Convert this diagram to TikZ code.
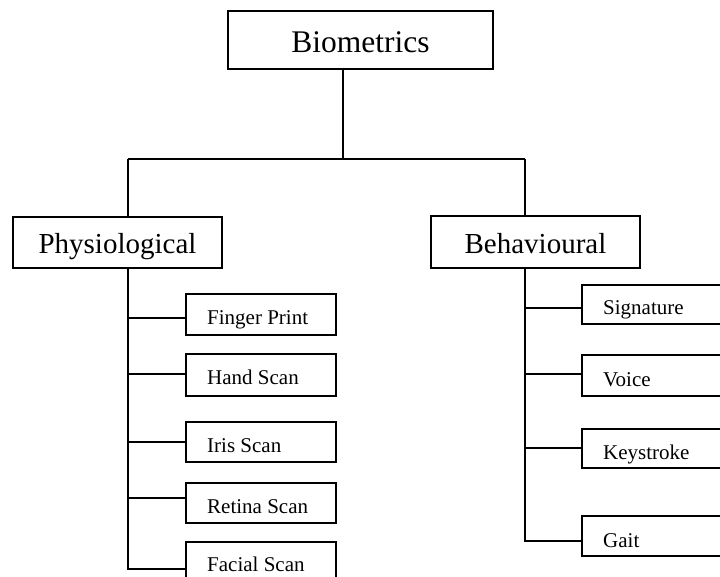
\documentclass[tikz,border=0pt]{standalone}
\usepackage{fontspec}
\setmainfont{Liberation Serif}
\begin{document}
\begin{tikzpicture}[x=1pt,y=-1pt,
  box/.style={draw, line width=1.7pt, rectangle, inner sep=0pt},
  link/.style={line width=1.7pt},
  title/.style={inner sep=0pt, anchor=base, font=\fontsize{31.5}{32}\selectfont},
  group/.style={inner sep=0pt, anchor=base, font=\fontsize{29}{30}\selectfont},
  item/.style={inner sep=0pt, anchor=base west, font=\fontsize{21}{22}\selectfont}]
\useasboundingbox (0,0) rectangle (720,577);
\clip (0,0) rectangle (720,577);

% root
\node[box, minimum width=265pt, minimum height=58pt] (bio) at (360.5,40) {};
\node[title] (bioT) at (360.5,53) {Biometrics};

% two groups
\node[box, minimum width=209pt, minimum height=51pt] (phys) at (117.5,242.5) {};
\node[group] (physT) at (117.5,254) {Physiological};
\node[box, minimum width=209pt, minimum height=52pt] (beh) at (535.5,242) {};
\node[group] (behT) at (535.5,254) {Behavioural};

% physiological items
\node[box, minimum width=150pt, minimum height=41pt] (fp) at (261,314.5) {};
\node[item] (fpT) at (207,324) {Finger Print};
\node[box, minimum width=150pt, minimum height=42pt] (hs) at (261,375) {};
\node[item] (hsT) at (207,384) {Hand Scan};
\node[box, minimum width=150pt, minimum height=40pt] (is) at (261,442) {};
\node[item] (isT) at (207,452) {Iris Scan};
\node[box, minimum width=150pt, minimum height=40pt] (rs) at (261,503) {};
\node[item] (rsT) at (207,513) {Retina Scan};
\node[box, minimum width=150pt, minimum height=40pt] (fs) at (261,562) {};
\node[item] (fsT) at (207,571) {Facial Scan};

% behavioural items
\node[box, minimum width=150pt, minimum height=39pt] (sig) at (657,304.5) {};
\node[item] (sigT) at (603,315) {Signature};
\node[box, minimum width=150pt, minimum height=41pt] (voi) at (657,375.5) {};
\node[item] (voiT) at (603,386) {Voice};
\node[box, minimum width=150pt, minimum height=39pt] (key) at (657,448.5) {};
\node[item] (keyT) at (603,459) {Keystroke};
\node[box, minimum width=150pt, minimum height=40pt] (gait) at (657,536) {};
\node[item] (gaitT) at (603,547) {Gait};

% junction points
\coordinate (split) at (343,159);
\coordinate (pl) at (128,159);
\coordinate (pr) at (525,159);

% root to groups
\draw[link] (bio.south -| split) -- (split);
\draw[link] (pl) -- (pr);
\draw[link] (pl) -- (pl |- phys.north);
\draw[link] (pr) -- (pr |- beh.north);

% physiological trunk and branches
\draw[link] (phys.south -| pl) |- ([yshift=-3.5pt]fp.west);
\draw[link] (phys.south -| pl) |- ([yshift=1pt]hs.west);
\draw[link] (phys.south -| pl) |- (is.west);
\draw[link] (phys.south -| pl) |- ([yshift=5pt]rs.west);
\draw[link] (phys.south -| pl) |- ([yshift=-7pt]fs.west);

% behavioural trunk and branches
\draw[link] (beh.south -| pr) |- ([yshift=-3.5pt]sig.west);
\draw[link] (beh.south -| pr) |- ([yshift=1.5pt]voi.west);
\draw[link] (beh.south -| pr) |- ([yshift=0.5pt]key.west);
\draw[link] (beh.south -| pr) |- ([yshift=-5pt]gait.west);
\end{tikzpicture}
\end{document}
